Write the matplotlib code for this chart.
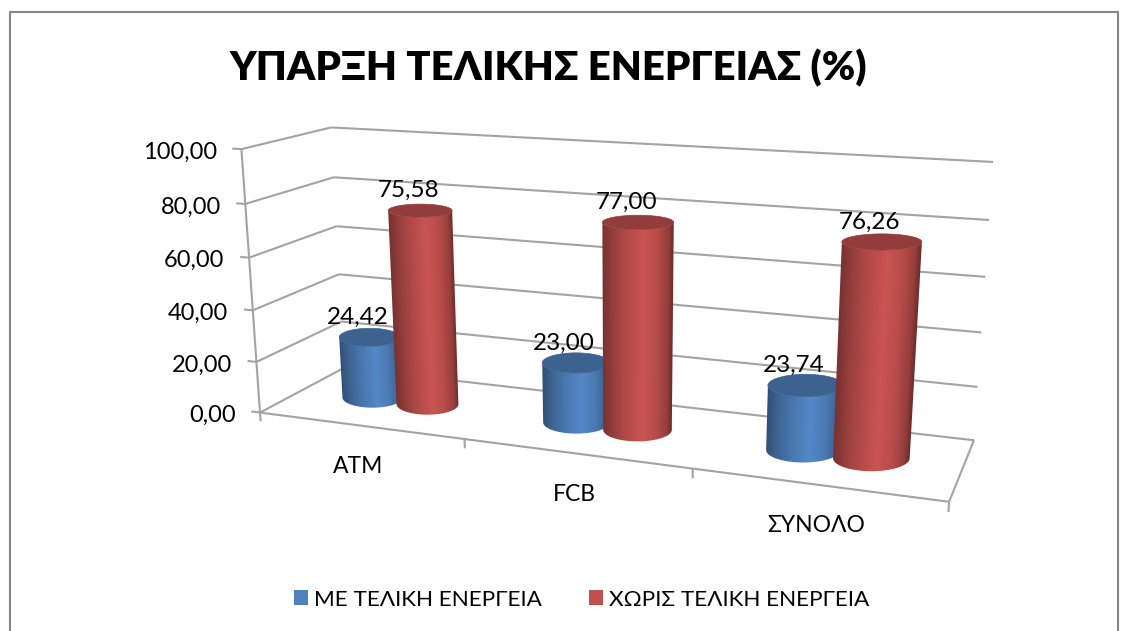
import matplotlib
matplotlib.use("Agg")
import matplotlib.pyplot as plt
import numpy as np
from matplotlib.patches import Patch, Polygon, Rectangle

plt.rcParams['font.family'] = ['Lato', 'Open Sans', 'DejaVu Sans']

title = "ΥΠΑΡΞΗ ΤΕΛΙΚΗΣ ΕΝΕΡΓΕΙΑΣ (%)"
categories = ["ATM", "FCB", "ΣΥΝΟΛΟ"]
me_values = [24.42, 23.00, 23.74]
xoris_values = [75.58, 77.00, 76.26]
series_names = ["ΜΕ ΤΕΛΙΚΗ ΕΝΕΡΓΕΙΑ", "ΧΩΡΙΣ ΤΕΛΙΚΗ ΕΝΕΡΓΕΙΑ"]
y_ticks = [0, 20, 40, 60, 80, 100]

blue = "#4F81BD"
red = "#C0504D"
grid = "#A3A3A3"

# box corners on the picture: (cat x, depth, value) -> pixel
anchors = [
    ((0, 0, 0), (260, 412.5)),
    ((0, 0, 100), (241.5, 149)),
    ((0, 1, 100), (331, 127.5)),
    ((0, 1, 0), (344, 368)),
    ((3, 1, 100), (993, 162)),
    ((3, 1, 0), (974, 440)),
    ((3, 0, 0), (949, 502)),
]


def fit_camera(anchors):
    rows = []
    for (x, y, z), (u, v) in anchors:
        rows.append([x, y, z, 1, 0, 0, 0, 0, -u*x, -u*y, -u*z, -u])
        rows.append([0, 0, 0, 0, x, y, z, 1, -v*x, -v*y, -v*z, -v])
    return np.linalg.svd(np.array(rows, dtype=float))[2][-1].reshape(3, 4)


cam = fit_camera(anchors)


def project(x, y, z):
    x, y, z = np.broadcast_arrays(x, y, z)
    p = cam @ np.array([x, y, z, np.ones_like(x)], dtype=float)
    return p[0]/p[2], p[1]/p[2]


def seg(ax, a, b, **kw):
    ua, va = project(*a)
    ub, vb = project(*b)
    ax.plot([ua, ub], [va, vb], color=grid, lw=1.5, solid_capstyle="butt", **kw)


def shade(color, u):
    rgb = np.array(matplotlib.colors.to_rgb(color))
    f = np.interp(u, [-1, -0.7, -0.3, 0.15, 0.55, 0.85, 1], [0.62, 0.78, 0.93, 1.05, 0.95, 0.78, 0.55])
    return np.clip(rgb*f[..., None], 0, 1)


def disc(cx, cy, rx, ry, z):
    # level ellipse around the projected centre, sized from the projected radii
    uc, vc = project(cx, cy, z)
    a = (project(cx + rx, cy, z)[0] - project(cx - rx, cy, z)[0])/2
    b = (project(cx, cy - ry, z)[1] - project(cx, cy + ry, z)[1])/2
    t = np.linspace(np.pi, 3*np.pi, 241)
    return uc + a*np.cos(t), vc - b*np.sin(t)


def cylinder(ax, cx, value, color, z):
    rx, ry = 0.155, 0.22
    cy = 0.5
    ub, vb = disc(cx, cy, rx, ry, 0)
    ut, vt = disc(cx, cy, rx, ry, value)
    front = np.arange(121)  # from the left point along the near side to the right point
    base = np.column_stack([ub[front], vb[front]])
    head = np.column_stack([ut[front], vt[front]])

    # side of the cylinder: gradient running across it, clipped to its outline
    outline = np.vstack([base, head[::-1]])
    u0, u1 = outline[:, 0].min() - 1, outline[:, 0].max() + 1
    v0, v1 = outline[:, 1].min() - 1, outline[:, 1].max() + 1
    uu, vv = np.meshgrid(np.linspace(u0, u1, 200), np.linspace(v0, v1, 200))
    frac = (vv - head[0, 1])/(base[0, 1] - head[0, 1])
    left = head[0, 0] + (base[0, 0] - head[0, 0])*frac
    right = head[-1, 0] + (base[-1, 0] - head[-1, 0])*frac
    im = ax.imshow(shade(color, 2*(uu - left)/(right - left) - 1), extent=(u0, u1, v1, v0), origin="upper",
                   aspect="auto", interpolation="bilinear", zorder=z)
    im.set_clip_path(Polygon(outline, closed=True, transform=ax.transData))

    top = np.array(matplotlib.colors.to_rgb(color))*0.76
    ax.fill(ut, vt, color=top, lw=0.5, zorder=z + 0.1)
    return project(cx, cy, value)


fig = plt.figure(figsize=(11.29, 6.31), dpi=100)
ax = fig.add_axes([0, 0, 1, 1])
ax.set_xlim(0, 1129)
ax.set_ylim(631, 0)
ax.set_autoscale_on(False)
ax.axis("off")

ax.add_patch(Rectangle((9.5, 11.5), 1108, 640, fc="white", ec="#868686", lw=1.5, zorder=0))
ax.text(548, 68, title, fontsize=28.8, fontweight="heavy", ha="center", va="center")

# walls and floor
for tick in y_ticks:
    seg(ax, (-0.045, 0, tick), (0, 0, tick))
    seg(ax, (0, 0, tick), (0, 1, tick))
    seg(ax, (0, 1, tick), (3, 1, tick))
    u, v = project(0, 0, tick)
    ax.text(u - 24.5, v + 3, f"{tick:.2f}".replace(".", ","), fontsize=17, ha="right", va="center")
seg(ax, (0, 0, 100), (0, 0, 0))
seg(ax, (0, 0, 0), (3, 0, 0))
seg(ax, (3, 0, 0), (3, 1, 0))
for i in range(4):
    seg(ax, (i, 0, 0), (i, 0, -3.5))

for i, cat in enumerate(categories):
    u, v = project(i + 0.5, 0, 0)
    ax.text(u - 1, v + 41, cat, fontsize=16.5, ha="center", va="center")
    cb = i + 0.36
    cr = i + 0.64
    ub, vb = cylinder(ax, cb, me_values[i], blue, 3)
    ur, vr = cylinder(ax, cr, xoris_values[i], red, 4)
    ax.text(ub - 12, vb - 20, f"{me_values[i]:.2f}".replace(".", ","), fontsize=17.5, ha="center", va="center", zorder=6)
    ax.text(ur - 12, vr - 20, f"{xoris_values[i]:.2f}".replace(".", ","), fontsize=17.5, ha="center", va="center", zorder=6)

handles = [Patch(fc=blue, label=series_names[0]), Patch(fc=red, label=series_names[1])]
ax.legend(handles=handles, loc="center", bbox_to_anchor=(581.5, 599.5), bbox_transform=ax.transData,
          ncol=2, frameon=False, fontsize=16.2, handlelength=0.62, handleheight=0.62,
          handletextpad=0.25, columnspacing=2.1)

fig.savefig("out.png", dpi=100)
